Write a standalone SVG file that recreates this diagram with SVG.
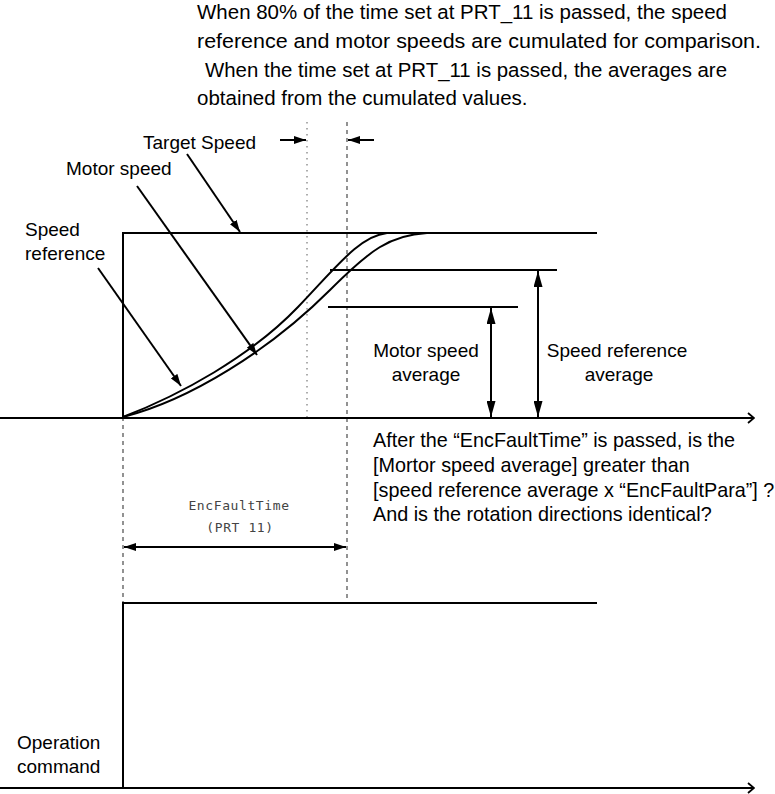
<svg xmlns="http://www.w3.org/2000/svg" width="775" height="794" viewBox="0 0 775 794">
<style>
text{font-family:"Liberation Sans",Arial,sans-serif;fill:#000}
.h{font-size:20.5px}
.t{font-size:19px}
.p{font-size:19.8px}
.small{font-family:"DejaVu Sans Mono","Liberation Mono",monospace;font-size:13px;fill:#444;letter-spacing:0.6px}
.ln{stroke:#000;stroke-width:2;fill:none}
.dash{stroke:#777;stroke-width:1.6;stroke-dasharray:4,4;fill:none}
.dot{stroke:#999;stroke-width:1.6;stroke-dasharray:1.5,4.5;fill:none}
</style>
<defs>
<marker id="ah" viewBox="0 0 12 8" refX="12" refY="4" markerWidth="12" markerHeight="8" markerUnits="userSpaceOnUse" orient="auto-start-reverse"><path d="M0,0 L12,4 L0,8 z" fill="#000"/></marker>
<marker id="av" viewBox="0 0 16 9" refX="16" refY="4.5" markerWidth="16" markerHeight="9" markerUnits="userSpaceOnUse" orient="auto-start-reverse"><path d="M0,0 L16,4.5 L0,9 z" fill="#000"/></marker>
<marker id="chev" viewBox="0 0 8 12" refX="7" refY="6" markerWidth="8" markerHeight="12" markerUnits="userSpaceOnUse" orient="auto"><path d="M1,1 L7,6 L1,11" fill="none" stroke="#000" stroke-width="1.8"/></marker>
</defs>
<rect width="775" height="794" fill="#fff"/>

<g id="note-top" class="h">
<text x="197" y="19" textLength="530" lengthAdjust="spacingAndGlyphs">When 80% of the time set at PRT_11 is passed, the speed</text>
<text x="197" y="48" textLength="564" lengthAdjust="spacingAndGlyphs">reference and motor speeds are cumulated for comparison.</text>
<text x="205" y="77" textLength="522" lengthAdjust="spacingAndGlyphs">When the time set at PRT_11 is  passed, the averages are</text>
<text x="197" y="105">obtained from the cumulated values.</text>
</g>

<g id="guides">
<line class="dot" x1="307" y1="122" x2="307" y2="417"/>
<line class="dash" x1="347" y1="122" x2="347" y2="603"/>
<line class="dash" x1="123" y1="417" x2="123" y2="603"/>
</g>

<g id="axes">
<line class="ln" x1="0" y1="418" x2="754" y2="418" marker-end="url(#chev)"/>
<line class="ln" x1="0" y1="788" x2="754" y2="788" marker-end="url(#chev)"/>
</g>

<g id="speed-reference-step">
<polyline class="ln" points="123,418 123,233 597,233"/>
</g>

<g id="curves">
<path class="ln" d="M123,417 C180,395 250,357 298,307 C338,265 360,236 387,233"/>
<path class="ln" d="M123,417 C190,400 270,350 330,290 C370,250 390,235 427,233"/>
</g>

<g id="averages">
<line class="ln" x1="330" y1="270" x2="557" y2="270"/>
<line class="ln" x1="328" y1="307" x2="518" y2="307"/>
</g>

<g id="operation-command">
<polyline class="ln" points="123,788 123,603 597,603"/>
<text class="t" x="17" y="749">Operation</text>
<text class="t" x="17" y="773">command</text>
</g>

<g id="connectors">
<line class="ln" x1="187" y1="154" x2="240" y2="232" marker-end="url(#ah)"/>
<line class="ln" x1="137" y1="186" x2="257" y2="355" marker-end="url(#ah)"/>
<line class="ln" x1="98" y1="268" x2="181" y2="386" marker-end="url(#ah)"/>
<line class="ln" x1="280" y1="140" x2="306" y2="140" marker-end="url(#ah)"/>
<line class="ln" x1="374" y1="140" x2="348" y2="140" marker-end="url(#ah)"/>
<line class="ln" x1="491" y1="308" x2="491" y2="417" marker-start="url(#av)" marker-end="url(#av)"/>
<line class="ln" x1="538" y1="271" x2="538" y2="417" marker-start="url(#av)" marker-end="url(#av)"/>
<line class="ln" x1="124" y1="547" x2="346" y2="547" marker-start="url(#ah)" marker-end="url(#ah)"/>
</g>

<g id="label-target-speed"><text class="t" x="143" y="149">Target Speed</text></g>
<g id="label-motor-speed"><text class="t" x="66" y="175">Motor speed</text></g>
<g id="label-speed-reference"><text class="t" x="25" y="236">Speed</text><text class="t" x="25" y="260">reference</text></g>
<g id="label-motor-avg"><text class="t" x="426" y="357" text-anchor="middle">Motor speed</text><text class="t" x="426" y="381" text-anchor="middle">average</text></g>
<g id="label-ref-avg"><text class="t" x="617" y="357" text-anchor="middle">Speed reference</text><text class="t" x="619" y="381" text-anchor="middle">average</text></g>

<g id="label-encfaulttime">
<text class="small" x="239" y="510" text-anchor="middle">EncFaultTime</text>
<text class="small" x="240" y="532" text-anchor="middle">(PRT 11)</text>
</g>

<g id="note-bottom" class="p">
<text x="373" y="447">After the “EncFaultTime” is passed, is the</text>
<text x="373" y="472">[Mortor speed average] greater than</text>
<text x="373" y="497">[speed reference average x “EncFaultPara”] ?</text>
<text x="373" y="521">And is the rotation directions identical?</text>
</g>
</svg>
